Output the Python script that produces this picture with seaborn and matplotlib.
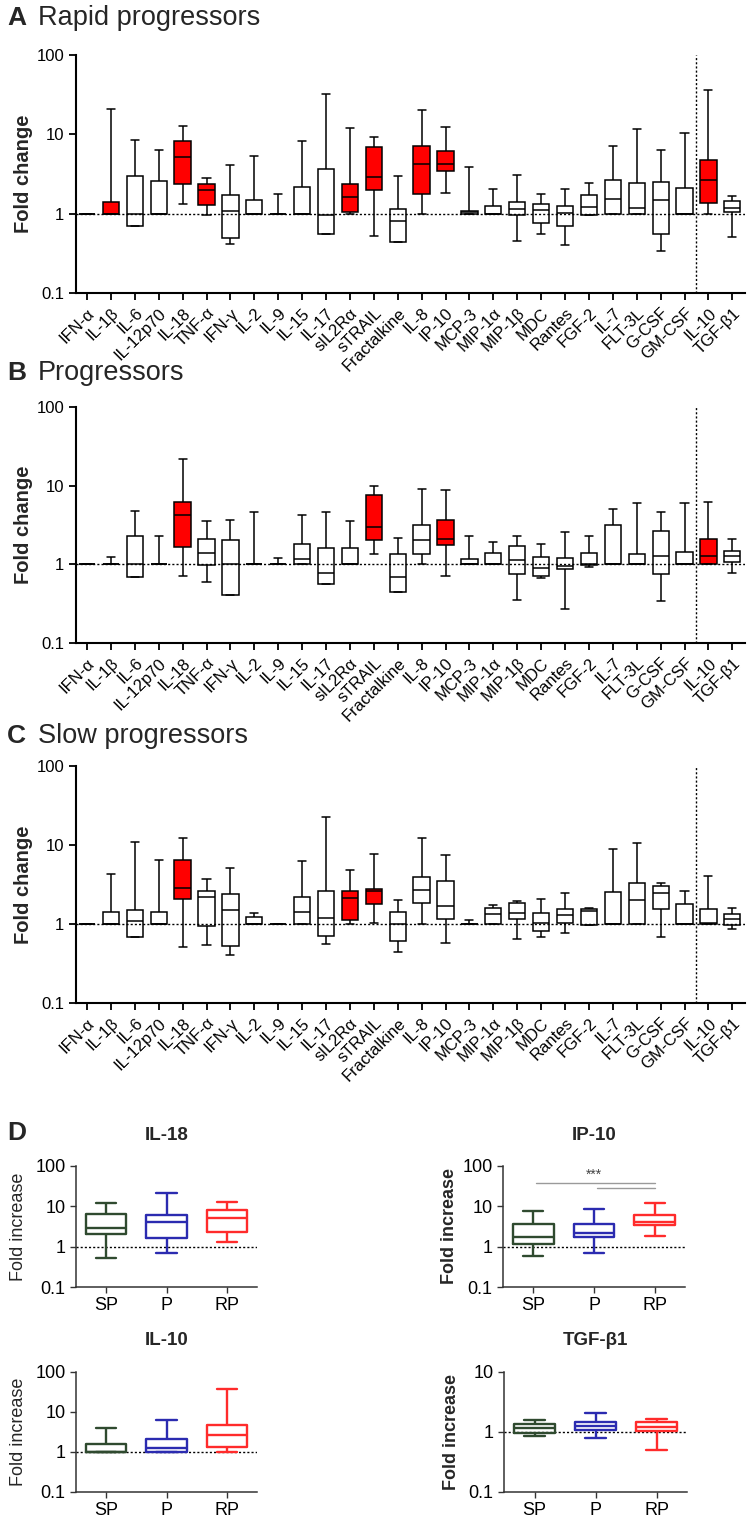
import numpy as np
import pandas as pd
import matplotlib
matplotlib.use("Agg")
import matplotlib.pyplot as plt
import seaborn as sns
from matplotlib.ticker import NullLocator

# ---------------- data ----------------
cytokines = ["IFN-α", "IL-1β", "IL-6", "IL-12p70", "IL-18", "TNF-α", "IFN-γ", "IL-2",
             "IL-9", "IL-15", "IL-17", "sIL2Rα", "sTRAIL", "Fractalkine", "IL-8",
             "IP-10", "MCP-3", "MIP-1α", "MIP-1β", "MDC", "Rantes", "FGF-2", "IL-7",
             "FLT-3L", "G-CSF", "GM-CSF", "IL-10", "TGF-β1"]

# Rapid progressors (A): min, q1, median, q3, max
rp_min = [1, 1, 0.69, 1, 1.34, 0.95, 0.41, 1, 1, 1, 0.56, 1, 0.52, 0.44, 1, 1.82, 1, 1,
          0.45, 0.56, 0.40, 0.97, 1, 1, 0.34, 1, 1, 0.51]
rp_q1 = [1, 1, 0.69, 1, 2.37, 1.27, 0.49, 1, 1, 1, 0.56, 1.05, 1.97, 0.44, 1.79, 3.42, 1, 1,
         0.95, 0.76, 0.69, 0.97, 1, 1, 0.56, 1, 1.36, 1.05]
rp_med = [1, 1, 1, 1, 5.2, 1.97, 1.07, 1, 1, 1, 0.95, 1.62, 2.9, 0.80, 4.27, 4.19, 1.04, 1,
          1.16, 1.12, 1.02, 1.21, 1.53, 1.18, 1.47, 1, 2.63, 1.19]
rp_q3 = [1, 1.40, 3.0, 2.58, 8.3, 2.39, 1.70, 1.5, 1, 2.17, 3.69, 2.39, 6.9, 1.16, 7.06, 6.1,
         1.08, 1.25, 1.39, 1.34, 1.26, 1.70, 2.68, 2.41, 2.48, 2.13, 4.7, 1.46]
rp_max = [1, 21, 8.4, 6.4, 12.6, 2.84, 4.07, 5.28, 1.79, 8.2, 32.6, 12.1, 9.26, 2.98, 20.5,
          12.4, 3.87, 2.07, 3.04, 1.75, 2.05, 2.44, 7.06, 11.7, 6.4, 10.4, 36.6, 1.65]
rp_sig = ["IL-1β", "IL-18", "TNF-α", "sIL2Rα", "sTRAIL", "IL-8", "IP-10", "IL-10"]

# Progressors (B)
p_min = [1, 1, 0.70, 1, 0.71, 0.59, 0.41, 1, 1, 1, 0.56, 1, 1.36, 0.44, 1, 0.71, 1, 1,
         0.35, 0.67, 0.27, 0.93, 1, 1, 0.34, 1, 1, 0.78]
p_q1 = [1, 1, 0.70, 1, 1.67, 0.97, 0.41, 1, 1, 1, 0.56, 1, 2.03, 0.44, 1.34, 1.74, 1, 1,
        0.76, 0.71, 0.86, 0.97, 1, 1, 0.76, 1, 1, 1.08]
p_med = [1, 1, 1, 1, 4.2, 1.40, 1, 1, 1, 1.16, 0.78, 1, 2.99, 0.70, 2.05, 2.13, 1, 1,
         1.13, 0.89, 0.95, 1.0, 1, 1, 1.27, 1, 1.27, 1.27]
p_q3 = [1, 1, 2.32, 1, 6.2, 2.09, 2.03, 1, 1, 1.84, 1.61, 1.61, 7.6, 1.34, 3.2, 3.63, 1.18,
        1.40, 1.69, 1.24, 1.21, 1.40, 3.2, 1.36, 2.69, 1.42, 2.13, 1.49]
p_max = [1, 1.25, 4.82, 2.26, 21.8, 3.53, 3.70, 4.63, 1.21, 4.2, 4.63, 3.53, 10, 2.17, 9.0,
         8.8, 2.28, 1.93, 2.28, 1.84, 2.61, 2.26, 5.0, 5.95, 4.63, 5.95, 6.25, 2.07]
p_sig = ["IL-18", "sTRAIL", "IP-10", "IL-10"]

# Slow progressors (C)
sp_min = [1, 1, 0.69, 1, 0.51, 0.55, 0.40, 1, 1, 1, 0.56, 1, 1.04, 0.44, 1, 0.58, 1, 1,
          0.65, 0.69, 0.78, 0.98, 1, 1, 0.68, 1, 1, 0.86]
sp_q1 = [1, 1, 0.69, 1, 2.08, 0.93, 0.53, 1, 1, 1, 0.71, 1.12, 1.80, 0.61, 1.85, 1.15, 1, 1,
         1.17, 0.81, 1.04, 0.98, 1, 1, 1.57, 1, 1, 0.96]
sp_med = [1, 1, 1.10, 1, 2.87, 2.20, 1.52, 1, 1, 1.42, 1.19, 2.16, 2.63, 1.0, 2.68, 1.69, 1,
          1.35, 1.39, 1.04, 1.29, 1.45, 1, 2.04, 2.50, 1, 1.02, 1.17]
sp_q3 = [1, 1.42, 1.51, 1.42, 6.5, 2.63, 2.38, 1.22, 1, 2.20, 2.63, 2.58, 2.81, 1.42, 3.96,
         3.55, 1, 1.60, 1.85, 1.39, 1.54, 1.54, 2.55, 3.26, 3.01, 1.79, 1.54, 1.35]
sp_max = [1, 4.24, 11.0, 6.55, 12.3, 3.73, 5.05, 1.37, 1, 6.27, 22.4, 4.77, 7.8, 2.04, 12.1,
          7.46, 1.11, 1.74, 1.98, 2.10, 2.45, 1.60, 8.9, 10.5, 3.32, 2.60, 4.0, 1.60]
sp_sig = ["IL-18", "sIL2Rα", "sTRAIL"]

groups = ["SP", "P", "RP"]
group_colors = ["#2f4a2f", "#2b2bb0", "#ff2b2b"]

RED = "#ff0000"
W, H = 756, 1521

sns.set_style("ticks")
plt.rcParams["font.family"] = ["Liberation Sans", "DejaVu Sans"]

fig = plt.figure(figsize=(W / 100, H / 100), dpi=100)


def rect(l, r, t, b):
    return [l / W, 1 - b / H, (r - l) / W, (b - t) / H]


def fy(y):
    return 1 - y / H


def five(mins, q1s, meds, q3s, maxs):
    return np.column_stack([mins, q1s, meds, q3s, maxs])


def big_panel(ax, stats, sig):
    df = pd.DataFrame({"cytokine": np.repeat(cytokines, 5),
                       "value": stats.ravel()})
    pal = {c: (RED if c in sig else "white") for c in cytokines}
    sns.boxplot(data=df, x="cytokine", y="value", hue="cytokine", order=cytokines,
                hue_order=cytokines, palette=pal, legend=False, whis=(0, 100),
                width=0.68, linewidth=1.1, linecolor="black", saturation=1,
                log_scale=True, ax=ax)
    ax.set_xlim(-0.46, 27.53)
    ax.set_ylim(0.1, 100)
    ax.set_yticks([0.1, 1, 10, 100], labels=["0.1", "1", "10", "100"])
    ax.yaxis.set_minor_locator(NullLocator())
    ax.set_xticks(range(len(cytokines)))
    ax.set_xticklabels(cytokines, rotation=45, ha="right", rotation_mode="anchor")
    ax.set_xlabel("")
    ax.set_ylabel("Fold change", fontsize=14.5, fontweight="bold")
    ax.yaxis.set_label_coords(-0.064, 0.5)
    ax.axhline(1, color="black", lw=1, ls=(0, (1.5, 1.5)), zorder=5)
    ax.axvline(25.5, color="black", lw=1, ls=(0, (1.5, 1.5)), zorder=5)
    sns.despine(ax=ax)
    for s in ("left", "bottom"):
        ax.spines[s].set_linewidth(1.5)
        ax.spines[s].set_color("black")
    ax.tick_params(axis="both", direction="out", length=5, width=1.3, colors="black",
                   labelsize=12)
    ax.tick_params(axis="x", pad=4)


panels = [
    ("A", "Rapid progressors", 25, (55, 293), five(rp_min, rp_q1, rp_med, rp_q3, rp_max), rp_sig),
    ("B", "Progressors", 380, (407, 643), five(p_min, p_q1, p_med, p_q3, p_max), p_sig),
    ("C", "Slow progressors", 743, (766, 1003), five(sp_min, sp_q1, sp_med, sp_q3, sp_max), sp_sig),
]
all_stats = {}
for letter, title, base, (t, b), stats, sig in panels:
    ax = fig.add_axes(rect(76, 745, t, b))
    big_panel(ax, stats, sig)
    fig.text(7 / W, fy(base), letter, fontsize=19, fontweight="bold", va="baseline")
    fig.text(38 / W, fy(base), title, fontsize=19.5, va="baseline")
    all_stats[letter] = stats

# ---------------- panel D ----------------
small_specs = [
    ("IL-18", (76, 257, 1166, 1287), (0.1, 100), [0.1, 1, 10, 100], False, 1140, -0.27),
    ("IP-10", (503, 685, 1166, 1287), (0.1, 100), [0.1, 1, 10, 100], True, 1140, -0.245),
    ("IL-10", (76, 257, 1372, 1492), (0.1, 100), [0.1, 1, 10, 100], False, 1345, -0.27),
    ("TGF-β1", (504, 687, 1372, 1492), (0.1, 10), [0.1, 1, 10], True, 1345, -0.24),
]
fig.text(7 / W, fy(1140), "D", fontsize=19, fontweight="bold", va="baseline")

for name, (l, r, t, b), ylim, yt, bold, tb, labx in small_specs:
    ax = fig.add_axes(rect(l, r, t, b))
    i = cytokines.index(name)
    vals = np.concatenate([all_stats["C"][i], all_stats["B"][i], all_stats["A"][i]])
    df = pd.DataFrame({"group": np.repeat(groups, 5), "value": vals})
    sns.boxplot(data=df, x="group", y="value", hue="group", order=groups, hue_order=groups,
                palette=dict(zip(groups, group_colors)), fill=False, legend=False,
                whis=(0, 100), width=0.67, linewidth=1.7, saturation=1, log_scale=True, ax=ax)
    ax.set_xlim(-0.5, 2.5)
    ax.set_ylim(*ylim)
    ax.set_yticks(yt, labels=[("0.1" if v < 1 else str(int(v))) for v in yt])
    ax.yaxis.set_minor_locator(NullLocator())
    ax.set_xlabel("")
    ax.set_ylabel("Fold increase", fontsize=13, fontweight=("bold" if bold else "normal"))
    ax.yaxis.set_label_coords(labx, 0.5)
    ax.axhline(1, color="black", lw=1, ls=(0, (1.5, 1.5)), zorder=0.5)
    sns.despine(ax=ax)
    for s in ("left", "bottom"):
        ax.spines[s].set_linewidth(1.1)
        ax.spines[s].set_color("#333333")
    ax.tick_params(axis="both", direction="out", length=4, width=1.0, colors="#333333",
                   labelcolor="black", labelsize=13)
    fig.text((l + r) / 2 / W, fy(tb), name, fontsize=13.5, fontweight="bold",
             ha="center", va="baseline")
    if name == "IP-10":
        ax.plot([0.05, 2.0], [37.6, 37.6], color="#9a9a9a", lw=1)
        ax.plot([1.05, 2.0], [28, 28], color="#9a9a9a", lw=1)
        ax.text(1.0, 40, "***", ha="center", va="bottom", fontsize=10, color="#444444")

fig.savefig("out.png", dpi=100)
